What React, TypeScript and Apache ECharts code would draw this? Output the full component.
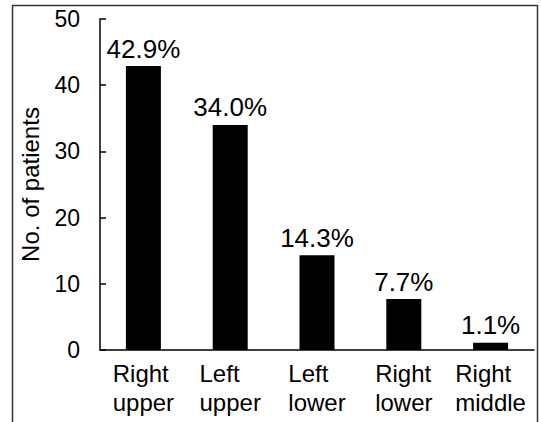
import React, { useEffect, useRef } from "react";
import * as echarts from "echarts";

const categories = ["Right\nupper", "Left\nupper", "Left\nlower", "Right\nlower", "Right\nmiddle"];
const percentValues = [42.9, 34.0, 14.3, 7.7, 1.1];
const yTicks = [0, 10, 20, 30, 40, 50];
const yAxisName = "No. of patients";

const FONT = "'Liberation Sans', Arial, Helvetica, sans-serif";

export default function App() {
  const ref = useRef<HTMLDivElement>(null);
  useEffect(() => {
    if (!ref.current) return;
    const chart = echarts.init(ref.current, undefined, { renderer: "svg" });
    chart.setOption({
      animation: false,
      backgroundColor: "#ffffff",
      textStyle: { fontFamily: FONT },
      graphic: [
        {
          type: "polyline",
          shape: { points: [[12.5, 422], [12.5, 5.5], [537.5, 5.5], [537.5, 422]] },
          style: { stroke: "#333", lineWidth: 1.5, fill: "none" },
          silent: true,
        },
      ],
      grid: { left: 100, right: 7, top: 19, bottom: 72, containLabel: false },
      xAxis: {
        type: "category",
        data: categories,
        axisLine: { lineStyle: { color: "#000", width: 1.5 } },
        axisTick: { inside: true, length: 6, lineStyle: { color: "#000", width: 1.5 } },
        axisLabel: {
          margin: 9,
          interval: 0,
          color: "#000",
          fontFamily: FONT,
          fontSize: 24,
          lineHeight: 29,
          align: "center",
          formatter: (v: string) =>
            v
              .split("\n")
              .map((s) => `{a|${s}}`)
              .join("\n"),
          rich: { a: { fontFamily: FONT, fontSize: 24, lineHeight: 29, color: "#000", align: "left" } },
        },
      },
      yAxis: {
        type: "value",
        min: yTicks[0],
        max: yTicks[yTicks.length - 1],
        interval: 10,
        name: yAxisName,
        nameLocation: "middle",
        nameRotate: 90,
        nameGap: 58,
        nameTextStyle: { color: "#000", fontFamily: FONT, fontSize: 24 },
        axisLine: { show: true, lineStyle: { color: "#000", width: 1.5 } },
        axisTick: { show: true, inside: true, length: 6, lineStyle: { color: "#000", width: 1.5 } },
        axisLabel: { margin: 20, color: "#000", fontFamily: FONT, fontSize: 23 },
        splitLine: { show: false },
      },
      series: [
        {
          type: "bar",
          data: percentValues,
          barWidth: 35,
          itemStyle: { color: "#000" },
          label: {
            show: true,
            position: "top",
            distance: 4,
            color: "#000",
            fontFamily: FONT,
            fontSize: 26,
            lineHeight: 27,
            formatter: (p: any) => `${Number(p.value).toFixed(1)}%`,
          },
        },
      ],
    });
    return () => chart.dispose();
  }, []);
  return (
    <div
      ref={ref}
      style={{ position: "fixed", left: 0, top: 0, width: 541, height: 422 }}
    />
  );
}
